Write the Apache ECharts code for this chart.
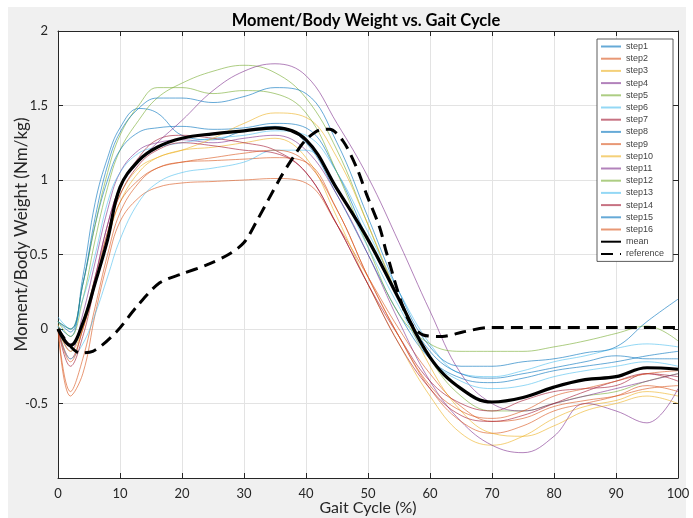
<!DOCTYPE html>
<html>
<head>
<meta charset="utf-8">
<script src="https://cdn.jsdelivr.net/npm/echarts@6.0.0/dist/echarts.min.js"></script>
<style>
  body { margin: 0; background: #fff; }
  #bg { position: absolute; left: 8px; top: 7px; width: 678px; height: 511px; background: #f0f0f0; }
  #main { position: absolute; left: 0; top: 0; width: 693px; height: 518px; }
</style>
</head>
<body>
<div id="bg"></div>
<div id="main"></div>
<script>
// gait cycle sample points (%)
var gaitPct = [0, 2, 4, 6, 8, 10, 13, 16, 20, 25, 30, 35, 40, 45, 50, 55, 60, 65, 70, 75, 80, 85, 90, 95, 100];

// moment / body weight per step (Nm/kg)
var step1 = [0.02, -0.05, 0.35, 0.85, 1.15, 1.35, 1.48, 1.45, 1.30, 1.27, 1.33, 1.36, 1.25, 0.90, 0.50, 0.10, -0.20, -0.33, -0.36, -0.33, -0.28, -0.25, -0.22, -0.18, -0.15];
var step2 = [0, -0.45, -0.30, 0.10, 0.45, 0.72, 0.88, 0.95, 0.98, 0.99, 1.00, 1.01, 0.98, 0.70, 0.35, 0.00, -0.30, -0.52, -0.62, -0.60, -0.52, -0.48, -0.45, -0.40, -0.38];
var step3 = [0.03, -0.12, 0.05, 0.35, 0.65, 0.90, 1.08, 1.15, 1.20, 1.22, 1.25, 1.28, 1.15, 0.75, 0.30, -0.10, -0.45, -0.70, -0.78, -0.72, -0.60, -0.52, -0.48, -0.42, -0.45];
var step4 = [0, -0.15, 0.10, 0.45, 0.80, 1.05, 1.20, 1.25, 1.27, 1.25, 1.28, 1.30, 1.20, 0.90, 0.50, 0.05, -0.35, -0.62, -0.78, -0.83, -0.72, -0.50, -0.55, -0.63, -0.40];
var step5 = [0.05, -0.05, 0.20, 0.60, 0.95, 1.20, 1.40, 1.55, 1.65, 1.73, 1.77, 1.72, 1.55, 1.20, 0.70, 0.20, -0.20, -0.45, -0.55, -0.55, -0.50, -0.45, -0.42, -0.35, -0.30];
var step6 = [0.08, 0.00, 0.20, 0.50, 0.85, 1.05, 1.18, 1.22, 1.25, 1.28, 1.30, 1.33, 1.30, 1.05, 0.65, 0.25, -0.10, -0.30, -0.32, -0.28, -0.22, -0.18, -0.13, -0.10, -0.12];
var step7 = [0, -0.20, 0.00, 0.35, 0.70, 0.95, 1.15, 1.27, 1.30, 1.28, 1.25, 1.20, 1.05, 0.70, 0.30, -0.05, -0.35, -0.50, -0.55, -0.48, -0.42, -0.40, -0.38, -0.30, -0.32];
var step8 = [0.05, -0.02, 0.30, 0.70, 1.00, 1.20, 1.32, 1.35, 1.36, 1.34, 1.35, 1.38, 1.35, 1.05, 0.60, 0.20, -0.15, -0.30, -0.33, -0.30, -0.26, -0.22, -0.18, -0.20, -0.20];
var step9 = [0, -0.42, -0.20, 0.15, 0.50, 0.78, 0.98, 1.08, 1.12, 1.13, 1.14, 1.15, 1.12, 0.80, 0.35, -0.05, -0.40, -0.62, -0.70, -0.65, -0.55, -0.50, -0.45, -0.38, -0.42];
var step10 = [0, -0.15, 0.00, 0.30, 0.60, 0.85, 1.05, 1.15, 1.20, 1.28, 1.38, 1.45, 1.42, 1.15, 0.70, 0.20, -0.25, -0.55, -0.70, -0.72, -0.65, -0.55, -0.50, -0.45, -0.50];
var step11 = [0, -0.10, 0.05, 0.35, 0.70, 0.95, 1.12, 1.25, 1.40, 1.60, 1.73, 1.78, 1.70, 1.38, 1.02, 0.58, 0.12, -0.30, -0.50, -0.55, -0.50, -0.45, -0.40, -0.35, -0.30];
var step12 = [0.05, 0.00, 0.30, 0.70, 1.05, 1.30, 1.50, 1.62, 1.62, 1.58, 1.60, 1.58, 1.45, 1.05, 0.55, 0.10, -0.10, -0.15, -0.15, -0.15, -0.12, -0.08, -0.03, 0.02, -0.08];
var step13 = [0.02, -0.20, -0.10, 0.10, 0.35, 0.60, 0.85, 0.98, 1.05, 1.08, 1.12, 1.20, 1.20, 0.95, 0.55, 0.15, -0.20, -0.35, -0.40, -0.38, -0.32, -0.28, -0.25, -0.22, -0.25];
var step14 = [0, -0.25, -0.05, 0.30, 0.65, 0.90, 1.10, 1.20, 1.25, 1.23, 1.20, 1.18, 1.05, 0.70, 0.30, -0.10, -0.40, -0.58, -0.62, -0.58, -0.50, -0.42, -0.35, -0.30, -0.35];
var step15 = [0.05, 0.00, 0.30, 0.75, 1.10, 1.32, 1.48, 1.55, 1.55, 1.52, 1.56, 1.62, 1.58, 1.25, 0.75, 0.25, -0.12, -0.25, -0.25, -0.22, -0.20, -0.16, -0.12, 0.05, 0.20];
var step16 = [0, -0.22, 0.00, 0.30, 0.60, 0.85, 1.00, 1.08, 1.12, 1.15, 1.18, 1.20, 1.12, 0.80, 0.35, -0.05, -0.38, -0.55, -0.60, -0.55, -0.45, -0.40, -0.35, -0.30, -0.28];

var meanValues = [0, -0.11, 0.04, 0.31, 0.60, 0.95, 1.13, 1.22, 1.28, 1.31, 1.33, 1.35, 1.27, 0.94, 0.60, 0.20, -0.19, -0.40, -0.49, -0.46, -0.39, -0.34, -0.32, -0.26, -0.27];

// reference curve has its own sample points
var refPct = [0, 3.5, 5.6, 9.4, 12.7, 16.4, 20, 24, 27.5, 30, 32, 35.8, 37.9, 40, 42.7, 43.8, 46, 48.2, 49.8, 51.9, 53, 56.3, 58.9, 62, 65.3, 69.7, 75, 80, 90, 100];
var refValues = [0, -0.16, -0.15, -0.02, 0.15, 0.31, 0.37, 0.43, 0.50, 0.58, 0.72, 1.01, 1.15, 1.27, 1.34, 1.34, 1.26, 1.08, 0.90, 0.68, 0.51, 0.08, -0.04, -0.05, -0.02, 0.01, 0.01, 0.01, 0.01, 0.01];

var stepSeries = [step1, step2, step3, step4, step5, step6, step7, step8, step9, step10, step11, step12, step13, step14, step15, step16];
var matlabColors = ['#0072BD', '#D95319', '#EDB120', '#7E2F8E', '#77AC30', '#4DBEEE', '#A2142F'];

function pairs(xs, ys) {
    var out = [];
    for (var i = 0; i < xs.length; i++) {
        out.push([xs[i], ys[i]]);
    }
    return out;
}

var chart = echarts.init(document.getElementById('main'));

var series = [];
var legendNames = [];
for (var s = 0; s < stepSeries.length; s++) {
    var name = 'step' + (s + 1);
    legendNames.push(name);
    series.push({
        name: name,
        type: 'line',
        data: pairs(gaitPct, stepSeries[s]),
        smooth: 0.4,
        symbol: 'none',
        color: matlabColors[s % 7],
        lineStyle: { width: 1, opacity: 0.6 },
        z: 2
    });
}
legendNames.push('mean', 'reference');
series.push({
    name: 'mean',
    type: 'line',
    data: pairs(gaitPct, meanValues),
    smooth: 0.4,
    symbol: 'none',
    color: '#000',
    lineStyle: { width: 3.2 },
    z: 3
});
series.push({
    name: 'reference',
    type: 'line',
    data: pairs(refPct, refValues),
    smooth: 0.3,
    symbol: 'none',
    color: '#000',
    lineStyle: { width: 3, type: [12, 7] },
    z: 4
});

var tickFont = { color: '#262626', fontSize: 13, fontFamily: 'Lato' };
var boxLine = { onZero: false, lineStyle: { color: '#262626', width: 1 } };
var boxTick = { show: true, inside: true, length: 5, lineStyle: { color: '#262626' } };

var option = {
    animation: false,
    backgroundColor: 'transparent',
    title: {
        text: 'Moment/Body Weight vs. Gait Cycle',
        left: 361,
        textAlign: 'center',
        top: 7,
        textStyle: { fontFamily: 'Lato', fontWeight: 'bold', fontSize: 16.5, color: '#000' }
    },
    grid: {
        left: 58, right: 15, top: 31, bottom: 40,
        outerBoundsMode: 'none',
        show: true, backgroundColor: '#fff', borderWidth: 0
    },
    legend: {
        data: legendNames,
        orient: 'vertical',
        left: 597,
        top: 39,
        itemWidth: 20,
        itemHeight: 10,
        itemGap: 3.2,
        padding: [3, 9, 3, 3],
        backgroundColor: '#fff',
        borderColor: '#333',
        borderWidth: 0.8,
        borderRadius: 0,
        itemStyle: { opacity: 0 },
        textStyle: { fontSize: 9, fontFamily: 'Liberation Sans', color: '#444' }
    },
    xAxis: [{
        type: 'value',
        min: 0, max: 100, interval: 10,
        name: 'Gait Cycle (%)',
        nameLocation: 'middle',
        nameGap: 22,
        nameMoveOverlap: false,
        nameTextStyle: { fontFamily: 'Lato', fontSize: 16, color: '#262626' },
        axisLine: boxLine,
        axisTick: boxTick,
        axisLabel: Object.assign({ margin: 9 }, tickFont),
        splitLine: { lineStyle: { color: '#e3e3e3', width: 1 } }
    }, {
        type: 'value', position: 'top',
        min: 0, max: 100, interval: 10,
        axisLine: boxLine,
        axisTick: boxTick,
        axisLabel: { show: false },
        splitLine: { show: false }
    }],
    yAxis: [{
        type: 'value',
        min: -1, max: 2, interval: 0.5,
        name: 'Moment/Body Weight (Nm/kg)',
        nameLocation: 'middle',
        nameGap: 28,
        nameMoveOverlap: false,
        nameTextStyle: { fontFamily: 'Lato', fontSize: 17, color: '#262626', padding: [0, 0, 0, 40] },
        axisLine: Object.assign({ show: true }, boxLine),
        axisTick: boxTick,
        axisLabel: Object.assign({ margin: 10, showMinLabel: false }, tickFont),
        splitLine: { lineStyle: { color: '#e3e3e3', width: 1 } }
    }, {
        type: 'value', position: 'right',
        min: -1, max: 2, interval: 0.5,
        axisLine: Object.assign({ show: true }, boxLine),
        axisTick: boxTick,
        axisLabel: { show: false },
        splitLine: { show: false }
    }],
    series: series
};

chart.setOption(option);
</script>
</body>
</html>
